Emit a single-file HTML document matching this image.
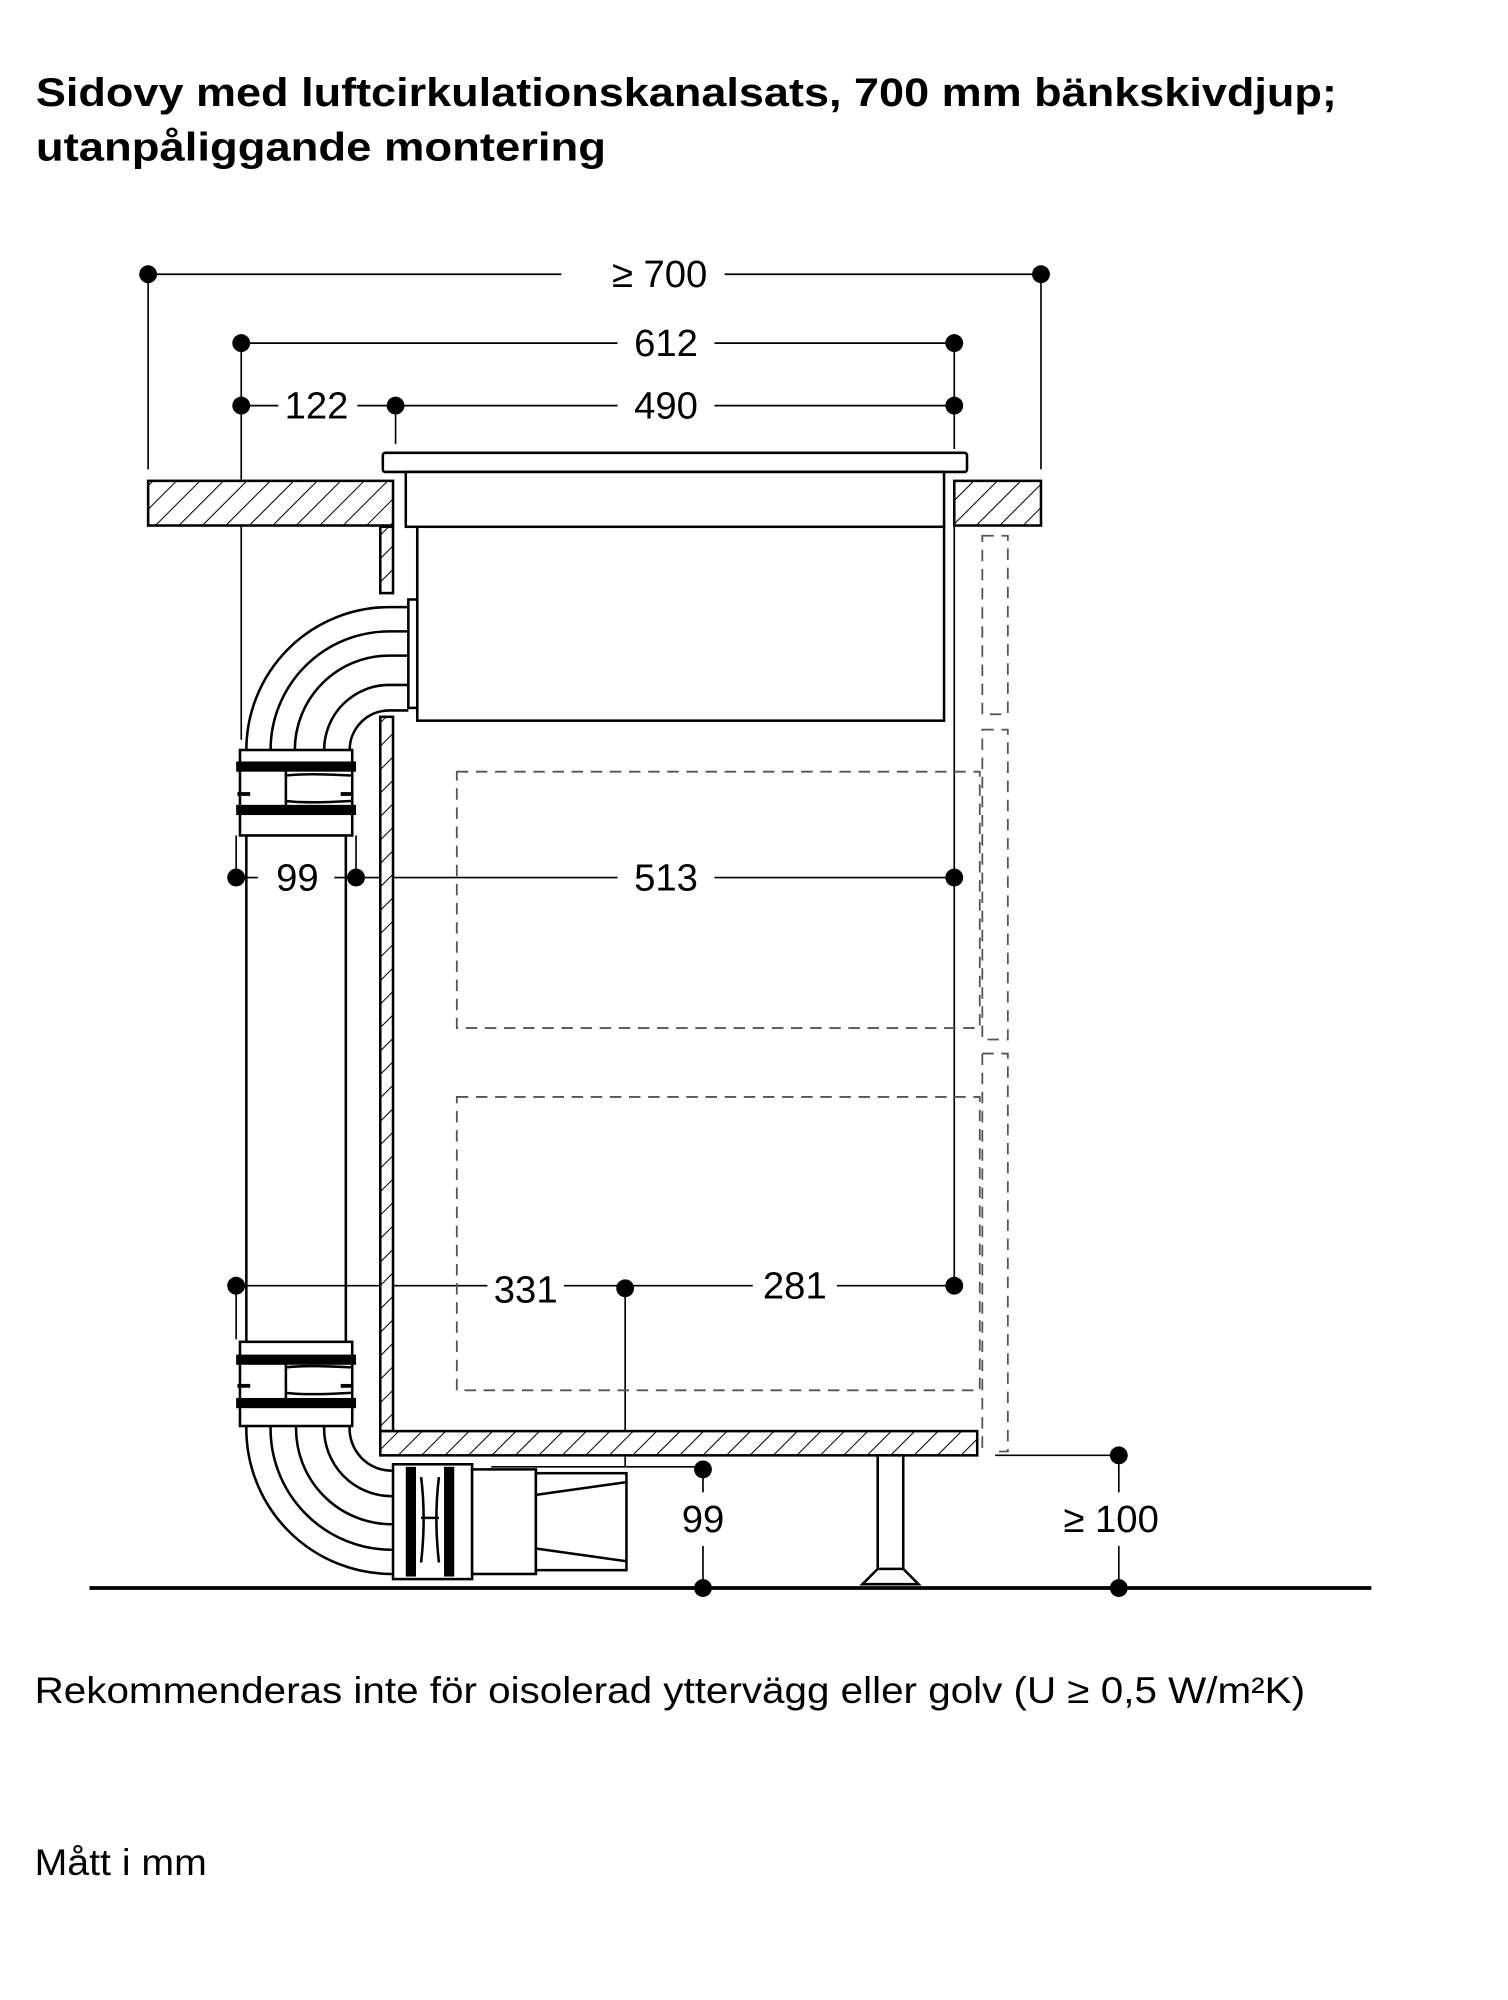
<!DOCTYPE html>
<html><head><meta charset="utf-8"><style>
html,body{margin:0;padding:0;background:#fff;}
svg{display:block;}
text{font-family:"Liberation Sans",Arial,sans-serif;fill:#000;}
</style></head><body>
<svg width="1508" height="2000" viewBox="0 0 1182 1568" xmlns="http://www.w3.org/2000/svg">
<defs>
<pattern id="h" patternUnits="userSpaceOnUse" width="13" height="13" patternTransform="rotate(45)">
<rect width="13" height="13" fill="#fff"/><line x1="0" y1="0" x2="0" y2="13" stroke="#000" stroke-width="1.6"/>
</pattern>
</defs>
<text x="28" y="83" font-size="31" font-weight="bold" textLength="1020" lengthAdjust="spacingAndGlyphs">Sidovy med luftcirkulationskanalsats, 700 mm bänkskivdjup;</text>
<text x="28" y="126" font-size="31" font-weight="bold" textLength="447" lengthAdjust="spacingAndGlyphs">utanpåliggande montering</text>

<g stroke="#000" stroke-width="1.3" fill="none">
<line x1="116" y1="215" x2="440" y2="215"/><line x1="568" y1="215" x2="816" y2="215"/>
<line x1="116" y1="215" x2="116" y2="368"/><line x1="816" y1="215" x2="816" y2="368"/>
<line x1="189" y1="269" x2="484" y2="269"/><line x1="560" y1="269" x2="748" y2="269"/>
<line x1="189" y1="269" x2="189" y2="580"/><line x1="748" y1="269" x2="748" y2="352"/>
<line x1="189" y1="318" x2="218" y2="318"/><line x1="280" y1="318" x2="484" y2="318"/><line x1="560" y1="318" x2="748" y2="318"/>
<line x1="310" y1="318" x2="310" y2="348"/>
<line x1="185" y1="688" x2="202" y2="688"/><line x1="262" y1="688" x2="484" y2="688"/><line x1="560" y1="688" x2="748" y2="688"/>
<line x1="748" y1="413" x2="748" y2="1008"/>
<line x1="185" y1="1008" x2="382" y2="1008"/><line x1="442" y1="1008" x2="590" y2="1008"/><line x1="656" y1="1008" x2="748" y2="1008"/>
<line x1="490" y1="1008" x2="490" y2="1150"/>
<line x1="385" y1="1150" x2="551" y2="1150"/>
<line x1="551" y1="1150" x2="551" y2="1170"/><line x1="551" y1="1212" x2="551" y2="1245"/>
<line x1="780" y1="1141" x2="877" y2="1141"/>
<line x1="877" y1="1141" x2="877" y2="1170"/><line x1="877" y1="1212" x2="877" y2="1245"/>
<line x1="185" y1="655" x2="185" y2="688"/><line x1="279" y1="655" x2="279" y2="688"/>
<line x1="185" y1="1008" x2="185" y2="1050"/>
</g>
<g fill="#000">
<circle cx="116" cy="215" r="7"/><circle cx="816" cy="215" r="7"/>
<circle cx="189" cy="269" r="7"/><circle cx="748" cy="269" r="7"/>
<circle cx="189" cy="318" r="7"/><circle cx="310" cy="318" r="7"/><circle cx="748" cy="318" r="7"/>
<circle cx="185" cy="688" r="7"/><circle cx="279" cy="688" r="7"/><circle cx="748" cy="688" r="7"/>
<circle cx="185" cy="1008" r="7"/><circle cx="490" cy="1010" r="7"/><circle cx="748" cy="1008" r="7"/>
<circle cx="551" cy="1152" r="7"/><circle cx="551" cy="1245" r="7"/>
<circle cx="877" cy="1141" r="7"/><circle cx="877" cy="1245" r="7"/>
</g>
<g font-size="30" text-anchor="middle">
<text x="517" y="225">≥ 700</text>
<text x="522" y="279">612</text>
<text x="248" y="328">122</text>
<text x="522" y="328">490</text>
<text x="233" y="698">99</text>
<text x="522" y="698">513</text>
<text x="412" y="1021">331</text>
<text x="623" y="1018">281</text>
<text x="551" y="1201">99</text>
<text x="871" y="1201">≥ 100</text>
</g>

<g stroke="#000" stroke-width="2" fill="none">
<rect x="116" y="377" width="192" height="35" fill="url(#h)"/>
<rect x="748" y="377" width="68" height="35" fill="url(#h)"/>
<rect x="300" y="355" width="458" height="15" rx="2" fill="#fff"/>
<rect x="318" y="370" width="422" height="43" fill="#fff"/>
<rect x="327" y="413" width="413" height="152" fill="#fff"/>
<rect x="298" y="413" width="10" height="52" fill="url(#h)"/>
<rect x="298" y="562" width="10" height="560" fill="url(#h)"/>
<rect x="298" y="1122" width="468" height="19" fill="url(#h)"/>
<rect x="688" y="1141" width="20" height="89" fill="#fff"/>
<path d="M688 1230 L676 1242 L720 1242 L708 1230"/>
</g>
<g stroke="#555" stroke-width="1.4" fill="none" stroke-dasharray="9 6">
<rect x="358" y="605" width="410" height="201"/>
<rect x="358" y="860" width="410" height="230"/>
<rect x="770" y="420" width="20" height="140"/>
<rect x="770" y="572" width="20" height="243"/>
<path d="M770 826 L790 826 L790 1138 L780 1138"/>
<line x1="770" y1="826" x2="770" y2="1135"/>
</g>

<g stroke="#000" stroke-width="2" fill="none">
<line x1="193" y1="655" x2="193" y2="1052"/><line x1="271" y1="655" x2="271" y2="1052"/>
<path d="M193 588 A112 112 0 0 1 305 476 L320 476"/>
<path d="M212 588 A93 93 0 0 1 305 495 L320 495"/>
<path d="M231 588 A74 74 0 0 1 305 514 L320 514"/>
<path d="M254 588 A51 51 0 0 1 305 537 L320 537"/>
<path d="M274 588 A31 31 0 0 1 305 557 L320 557"/>
<rect x="320" y="470" width="7" height="85" fill="#fff"/>
<rect x="188" y="588" width="88" height="67" fill="#fff"/>
<path d="M224 604 L224 632 M224 608 Q240 606 275 608 M224 628 Q240 630 275 628"/>
<rect x="188" y="1052" width="88" height="66" fill="#fff"/>
<path d="M224 1068 L224 1096 M224 1072 Q240 1070 275 1072 M224 1092 Q240 1094 275 1092"/>
<path d="M193 1118 A114 114 0 0 0 307 1234"/>
<path d="M212 1118 A95 95 0 0 0 307 1215"/>
<path d="M232 1118 A75 75 0 0 0 307 1195"/>
<path d="M254 1118 A53 53 0 0 0 307 1173"/>
<path d="M274 1118 A33 33 0 0 0 307 1153"/>
<rect x="308" y="1148" width="62" height="90" fill="#fff"/>
<path d="M330 1158 Q334 1190 330 1225 M344 1158 Q340 1190 344 1225 M330 1190 L344 1190"/>
<rect x="370" y="1152" width="50" height="82" fill="#fff"/>
<rect x="420" y="1155" width="71" height="76" fill="#fff"/>
<line x1="420" y1="1172" x2="491" y2="1162"/><line x1="420" y1="1214" x2="491" y2="1224"/>
</g>
<g fill="#000">
<rect x="185" y="597" width="94" height="8"/><rect x="185" y="631" width="94" height="8"/>
<rect x="185" y="1062" width="94" height="8"/><rect x="185" y="1096" width="94" height="8"/>
<rect x="318" y="1150" width="8" height="86"/><rect x="348" y="1150" width="8" height="86"/>
<rect x="186" y="621" width="10" height="3"/><rect x="267" y="621" width="10" height="3"/>
<rect x="186" y="1085" width="10" height="3"/><rect x="267" y="1085" width="10" height="3"/>
</g>
<line x1="70" y1="1245" x2="1075" y2="1245" stroke="#000" stroke-width="3"/>

<text x="27" y="1335" font-size="29" textLength="996" lengthAdjust="spacingAndGlyphs">Rekommenderas inte för oisolerad yttervägg eller golv (U ≥ 0,5 W/m²K)</text>
<text x="27" y="1470" font-size="29" textLength="135" lengthAdjust="spacingAndGlyphs">Mått i mm</text>
</svg>
</body></html>
